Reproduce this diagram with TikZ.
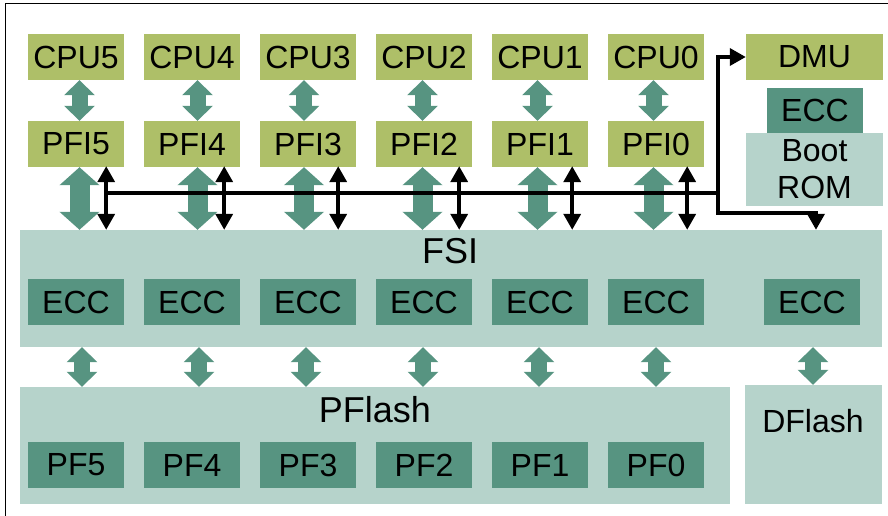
\documentclass[tikz,border=0pt]{standalone}
\usepackage{fontspec}
\setmainfont{Liberation Sans}
\usepackage{xcolor}
\usepackage{tikz}
\usetikzlibrary{calc}
\usetikzlibrary{arrows.meta}

\definecolor{olivebox}{HTML}{AEBF68}
\definecolor{tealbox}{HTML}{579481}
\definecolor{palebox}{HTML}{B6D3CB}

\begin{document}
\begin{tikzpicture}[x=1pt,y=-1pt,
        box/.style={inner sep=0pt, minimum width=96pt, minimum height=46pt, font=\fontsize{32}{37}\selectfont},
        cpubox/.style={box, fill=olivebox},
        eccbox/.style={box, fill=tealbox},
        memblock/.style={fill=palebox, inner sep=0pt},
        memlabel/.style={inner sep=0pt, font=\fontsize{36}{40}\selectfont},
        bigarrow/.style={draw=tealbox, line width=20pt, {Triangle[length=18pt,width=39pt]}-{Triangle[length=18pt,width=39pt]}},
        smallarrow/.style={draw=tealbox, line width=16pt, {Triangle[length=15pt,width=30pt]}-{Triangle[length=15pt,width=30pt]}},
        busline/.style={draw=black, line width=3.5pt},
        busarrow/.style={busline, {Triangle[length=16pt,width=17pt]}-{Triangle[length=16pt,width=17pt]}}]
        %GRID
        %\draw[lightgray] (0,0) grid[step=50] (888,516);
        \useasboundingbox (0,0) rectangle (888,516);

        %RAHMEN
        \draw[line width=1.5pt] (5.5,516) -- (5.5,3.5) -- (888,3.5);

        %CPU
        \node[cpubox] (cpu5) at (76,57) {CPU5};
        \node[cpubox] (cpu4) at (192,57) {CPU4};
        \node[cpubox] (cpu3) at (308,57) {CPU3};
        \node[cpubox] (cpu2) at (424,57) {CPU2};
        \node[cpubox] (cpu1) at (540,57) {CPU1};
        \node[cpubox] (cpu0) at (656,57) {CPU0};
        \node[cpubox, minimum width=137pt] (dmu) at (814.5,57) {DMU};

        %PFI
        \node[cpubox] (pfi5) at (76,144) {PFI5};
        \node[cpubox] (pfi4) at (192,144) {PFI4};
        \node[cpubox] (pfi3) at (308,144) {PFI3};
        \node[cpubox] (pfi2) at (424,144) {PFI2};
        \node[cpubox] (pfi1) at (540,144) {PFI1};
        \node[cpubox] (pfi0) at (656,144) {PFI0};

        %BOOT ROM
        \node[memblock, minimum width=137pt, minimum height=73pt, align=center, font=\fontsize{32}{37}\selectfont] (rom) at (814.5,169.5) {Boot\\ROM};
        \node[eccbox, minimum height=45pt] (eccrom) at (815,110.5) {ECC};

        %FSI
        \node[memblock, minimum width=862pt, minimum height=117pt] (fsi) at (451,288.5) {};
        \node[memlabel] (fsilabel) at (450,251) {FSI};
        \node[eccbox] (ecc5) at (76,302) {ECC};
        \node[eccbox] (ecc4) at (192,302) {ECC};
        \node[eccbox] (ecc3) at (308,302) {ECC};
        \node[eccbox] (ecc2) at (424,302) {ECC};
        \node[eccbox] (ecc1) at (540,302) {ECC};
        \node[eccbox] (ecc0) at (656,302) {ECC};
        \node[eccbox] (eccd) at (812,302) {ECC};

        %PFLASH
        \node[memblock, minimum width=710pt, minimum height=117pt] (pflash) at (375,445.5) {};
        \node[memlabel] (pflashlabel) at (375,410) {PFlash};
        \node[eccbox] (pf5) at (76,465) {PF5};
        \node[eccbox] (pf4) at (192,465) {PF4};
        \node[eccbox] (pf3) at (308,465) {PF3};
        \node[eccbox] (pf2) at (424,465) {PF2};
        \node[eccbox] (pf1) at (540,465) {PF1};
        \node[eccbox] (pf0) at (656,465) {PF0};

        %DFLASH
        \node[memblock, minimum width=137pt, minimum height=119pt] (dflash) at (813.5,444.5) {};
        \node[inner sep=0pt, font=\fontsize{32}{37}\selectfont] (dflashlabel) at (813,421) {DFlash};

        %PFEILE CPU-PFI
        \draw[smallarrow] ($(cpu5.south)+(3.5,0)$) -- ($(pfi5.north)+(3.5,0)$);
        \draw[smallarrow] ($(cpu4.south)+(5.5,0)$) -- ($(pfi4.north)+(5.5,0)$);
        \draw[smallarrow] ($(cpu3.south)+(-4,0)$) -- ($(pfi3.north)+(-4,0)$);
        \draw[smallarrow] ($(cpu2.south)+(-1.5,0)$) -- ($(pfi2.north)+(-1.5,0)$);
        \draw[smallarrow] ($(cpu1.south)+(-2.5,0)$) -- ($(pfi1.north)+(-2.5,0)$);
        \draw[smallarrow] ($(cpu0.south)+(-2.5,0)$) -- ($(pfi0.north)+(-2.5,0)$);

        %PFEILE PFI-FSI
        \draw[bigarrow] ($(pfi5.south)+(3.5,0)$) -- ($(pfi5.south |- fsi.north)+(3.5,0)$);
        \draw[bigarrow] ($(pfi4.south)+(5.5,0)$) -- ($(pfi4.south |- fsi.north)+(5.5,0)$);
        \draw[bigarrow] ($(pfi3.south)+(-4,0)$) -- ($(pfi3.south |- fsi.north)+(-4,0)$);
        \draw[bigarrow] ($(pfi2.south)+(-1.5,0)$) -- ($(pfi2.south |- fsi.north)+(-1.5,0)$);
        \draw[bigarrow] ($(pfi1.south)+(-2.5,0)$) -- ($(pfi1.south |- fsi.north)+(-2.5,0)$);
        \draw[bigarrow] ($(pfi0.south)+(-2.5,0)$) -- ($(pfi0.south |- fsi.north)+(-2.5,0)$);

        %PFEILE FSI-FLASH
        \draw[smallarrow] ($(ecc5.south |- fsi.south)+(6,0)$) -- ($(ecc5.south |- pflash.north)+(6,0)$);
        \draw[smallarrow] ($(ecc4.south |- fsi.south)+(7,0)$) -- ($(ecc4.south |- pflash.north)+(7,0)$);
        \draw[smallarrow] ($(ecc3.south |- fsi.south)+(-2,0)$) -- ($(ecc3.south |- pflash.north)+(-2,0)$);
        \draw[smallarrow] ($(ecc2.south |- fsi.south)+(-1,0)$) -- ($(ecc2.south |- pflash.north)+(-1,0)$);
        \draw[smallarrow] ($(ecc1.south |- fsi.south)+(-1,0)$) -- ($(ecc1.south |- pflash.north)+(-1,0)$);
        \draw[smallarrow] (ecc0.south |- fsi.south) -- (ecc0.south |- pflash.north);
        \draw[smallarrow] ($(eccd.south |- fsi.south)+(1,0)$) -- ($(eccd.south |- dflash.north)+(1,0)$);

        %BUS
        \coordinate (b5) at ($(pfi5.south east)+(-18,-1)$);
        \coordinate (b4) at ($(pfi4.south east)+(-16,-1)$);
        \coordinate (b3) at ($(pfi3.south east)+(-18,-1)$);
        \coordinate (b2) at ($(pfi2.south east)+(-13,-1)$);
        \coordinate (b1) at ($(pfi1.south east)+(-16,-1)$);
        \coordinate (b0) at ($(pfi0.south east)+(-17,-1)$);
        \coordinate (busend) at (718,193);
        \coordinate (turnup) at (718,57);
        \coordinate (turndown) at (718,213);
        \coordinate (fsitap) at (816,213);

        \draw[busline] (b5 |- busend) -- (busend);
        \draw[busarrow] (dmu.west) -- (turnup) -- (turndown) -- (fsitap) -- (fsitap |- fsi.north);

        \draw[busarrow] (b5) -- (b5 |- fsi.north);
        \draw[busarrow] (b4) -- (b4 |- fsi.north);
        \draw[busarrow] (b3) -- (b3 |- fsi.north);
        \draw[busarrow] (b2) -- (b2 |- fsi.north);
        \draw[busarrow] (b1) -- (b1 |- fsi.north);
        \draw[busarrow] (b0) -- (b0 |- fsi.north);
    \end{tikzpicture}
\end{document}
